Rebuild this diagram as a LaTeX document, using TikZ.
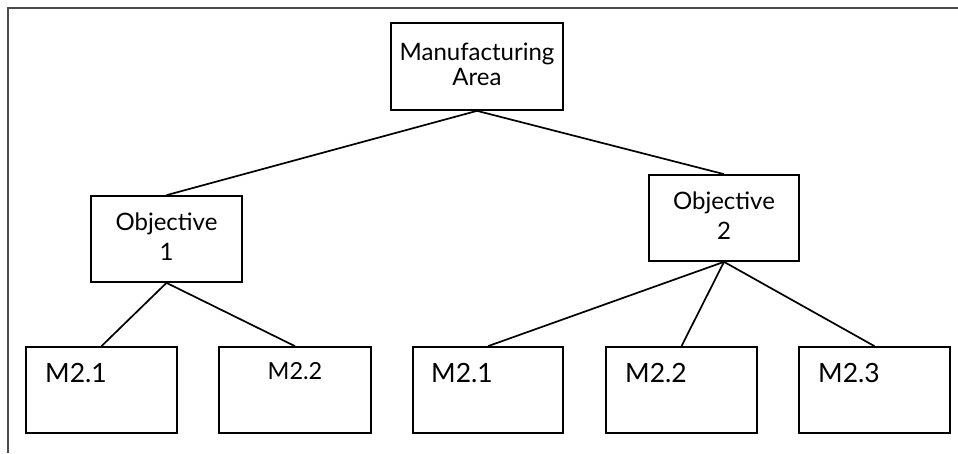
\documentclass[tikz,border=0pt]{standalone}
\usepackage{fontspec}
\setmainfont{Lato}
\begin{document}
\begin{tikzpicture}[x=1pt,y=-1pt,
  box/.style={draw=black, line width=1.7pt, rectangle, inner sep=0pt, minimum height=86pt},
  conn/.style={line width=1.7pt, black},
  midtext/.style={font=\fontsize{24}{25}\selectfont, align=center, inner sep=0pt},
  objtext/.style={font=\fontsize{24}{30}\selectfont, align=center, inner sep=0pt},
  bigtext/.style={font=\fontsize{26.5}{28}\selectfont, anchor=base west, inner sep=0pt},
  smalltext/.style={font=\fontsize{23.5}{25}\selectfont, anchor=base, inner sep=0pt}
]
\useasboundingbox (0,0) rectangle (958,453);
\fill[white] (0,0) rectangle (958,453);
% frame
\draw[line width=2pt, black!70] (8,453) -- (8,7.5) -- (958,7.5);
% boxes
\node[box, minimum width=172pt, minimum height=87pt] (top) at (477,66.5) {};
\node[box, minimum width=151pt] (o1) at (166.5,239) {};
\node[box, minimum width=150pt] (o2) at (724,218) {};
\node[box, minimum width=151pt] (m1) at (101.5,390) {};
\node[box, minimum width=152pt] (m2) at (295,390) {};
\node[box, minimum width=150pt] (m3) at (488,390) {};
\node[box, minimum width=151pt] (m4) at (681.5,390) {};
\node[box, minimum width=151pt] (m5) at (874.5,390) {};
% texts
\node[midtext] (ttop) at (477,64.5) {Manufacturing\\Area};
\node[objtext] (to1) at (166.5,237) {Objective\\1};
\node[objtext] (to2) at (724,216) {Objective\\2};
\node[bigtext] (tm1) at (45,382) {M2.1};
\node[smalltext] (tm2) at (295,379) {M2.2};
\node[bigtext] (tm3) at (431,382) {M2.1};
\node[bigtext] (tm4) at (625,382) {M2.2};
\node[bigtext] (tm5) at (818,382) {M2.3};
% connectors
\draw[conn] (top.south) -- (o1.north);
\draw[conn] (top.south) -- (o2.north);
\draw[conn] (o1.south) -- (m1.north);
\draw[conn] (o1.south) -- (m2.north);
\draw[conn] (o2.south) -- (m3.north);
\draw[conn] (o2.south) -- (m4.north);
\draw[conn] (o2.south) -- (m5.north);
\end{tikzpicture}
\end{document}
